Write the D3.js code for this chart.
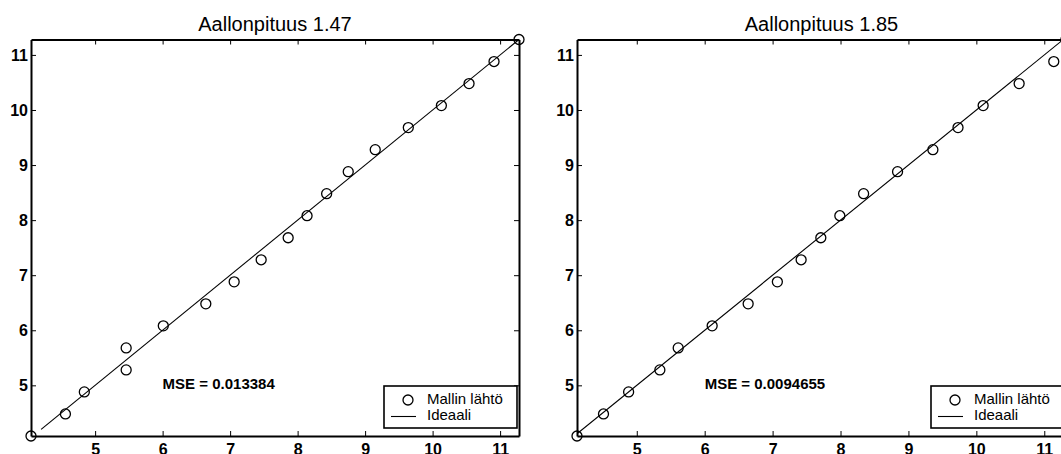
<!DOCTYPE html>
<html>
<head>
<meta charset="utf-8">
<script src="https://cdn.jsdelivr.net/npm/d3@7"></script>
<style>
  html, body { margin: 0; padding: 0; background: #fff; overflow: hidden; }
  svg { display: block; font-family: "Liberation Sans", Arial, Helvetica, sans-serif; }
</style>
</head>
<body>
<svg id="chart" width="1061" height="454"></svg>
<script>
// Target values (vertical axis) shared by both wavelengths
const targetValues = [4.08, 4.48, 4.88, 5.28, 5.68, 6.08, 6.48, 6.88, 7.28, 7.68,
                      8.08, 8.48, 8.88, 9.28, 9.68, 10.08, 10.48, 10.88, 11.28];
// Model outputs (horizontal axis) for each wavelength
const outputs147 = [4.05, 4.56, 4.84, 5.46, 5.46, 6.01, 6.64, 7.06, 7.46, 7.86,
                    8.14, 8.43, 8.75, 9.15, 9.64, 10.13, 10.54, 10.91, 11.28];
const outputs185 = [4.12, 4.51, 4.88, 5.34, 5.61, 6.11, 6.64, 7.07, 7.42, 7.71,
                    7.99, 8.34, 8.84, 9.36, 9.73, 10.10, 10.63, 11.14, 11.32];
const xTickValues = [5, 6, 7, 8, 9, 10, 11];
const yTickValues = [5, 6, 7, 8, 9, 10, 11];
const panelTitles = ["Aallonpituus 1.47", "Aallonpituus 1.85"];
const mseLabels = ["MSE = 0.013384", "MSE = 0.0094655"];
const msePosition = [6, 5];
const idealRanges = [[4.2, 11.28], [4.12, 11.32]];
const legendLabels = ["Mallin lähtö", "Ideaali"];

const svg = d3.select("#chart");
const plotTop = 39.5, plotBottom = 436;
const panels = [
  { left: 31, right: 519, outputs: outputs147, title: panelTitles[0], mse: mseLabels[0], ideal: idealRanges[0] },
  { left: 577, right: 1066, outputs: outputs185, title: panelTitles[1], mse: mseLabels[1], ideal: idealRanges[1] }
];

panels.forEach((p, i) => {
  const x = d3.scaleLinear().domain(d3.extent(p.outputs)).range([p.left, p.right]);
  const y = d3.scaleLinear().domain(d3.extent(targetValues)).range([plotBottom, plotTop]);
  const g = svg.append("g");

  // clip region for the ideal line
  const clipId = "clip" + i;
  svg.append("clipPath").attr("id", clipId)
    .append("rect").attr("x", p.left).attr("y", plotTop)
    .attr("width", p.right - p.left).attr("height", plotBottom - plotTop);

  // ideal y = x line
  const line = d3.line().x(d => x(d)).y(d => y(d));
  g.append("path").datum(p.ideal)
    .attr("d", line)
    .attr("clip-path", `url(#${clipId})`)
    .attr("fill", "none").attr("stroke", "#000").attr("stroke-width", 1.1);

  // axes (box with inward ticks)
  const tickLen = 5;
  const styleAxis = (sel) => {
    sel.select(".domain").attr("stroke", "#000").attr("stroke-width", 2);
    sel.selectAll(".tick line").attr("stroke", "#000").attr("stroke-width", 1);
    sel.selectAll(".tick text").attr("fill", "#000")
      .style("font-size", "16px").style("font-weight", "bold")
      .style("font-family", '"Liberation Sans", Arial, sans-serif');
  };
  g.append("g").attr("transform", `translate(0,${plotBottom})`)
    .call(d3.axisBottom(x).tickValues(xTickValues).tickFormat(d3.format("d"))
      .tickSizeInner(-tickLen).tickSizeOuter(0).tickPadding(7.5))
    .call(styleAxis);
  g.append("g").attr("transform", `translate(0,${plotTop})`)
    .call(d3.axisTop(x).tickValues(xTickValues).tickFormat("")
      .tickSizeInner(-tickLen).tickSizeOuter(0))
    .call(styleAxis);
  g.append("g").attr("transform", `translate(${p.left},0)`)
    .call(d3.axisLeft(y).tickValues(yTickValues).tickFormat(d3.format("d"))
      .tickSizeInner(-tickLen).tickSizeOuter(0).tickPadding(3))
    .call(styleAxis);
  g.append("g").attr("transform", `translate(${p.right},0)`)
    .call(d3.axisRight(y).tickValues(yTickValues).tickFormat("")
      .tickSizeInner(-tickLen).tickSizeOuter(0))
    .call(styleAxis);

  // model output markers
  g.append("g").selectAll("circle")
    .data(p.outputs.map((v, k) => [v, targetValues[k]]))
    .join("circle")
    .attr("cx", d => x(d[0])).attr("cy", d => y(d[1]))
    .attr("r", 5).attr("fill", "none")
    .attr("stroke", "#000").attr("stroke-width", 1.3);

  // title
  g.append("text")
    .attr("x", (p.left + p.right) / 2).attr("y", 31)
    .attr("text-anchor", "middle")
    .style("font-size", "20px")
    .text(p.title);

  // MSE annotation
  g.append("text")
    .attr("x", x(msePosition[0])).attr("y", y(msePosition[1]))
    .attr("dominant-baseline", "middle")
    .style("font-size", "15px").style("font-weight", "bold")
    .text(p.mse);

  // legend
  const lx = p.right - 135, ly = 386, lw = 133, lh = 42;
  const lg = g.append("g");
  lg.append("rect").attr("x", lx).attr("y", ly).attr("width", lw).attr("height", lh)
    .attr("fill", "#fff").attr("stroke", "#000").attr("stroke-width", 1.6);
  lg.append("circle").attr("cx", lx + 24).attr("cy", ly + 14).attr("r", 5)
    .attr("fill", "none").attr("stroke", "#000").attr("stroke-width", 1.3);
  lg.append("line").attr("x1", lx + 7).attr("x2", lx + 32)
    .attr("y1", ly + 30.5).attr("y2", ly + 30.5)
    .attr("stroke", "#000").attr("stroke-width", 1.1);
  lg.selectAll("text").data(legendLabels).join("text")
    .attr("x", lx + 43).attr("y", (d, k) => ly + 14 + k * 16.5)
    .attr("dominant-baseline", "middle")
    .style("font-size", "15px")
    .text(d => d);
});
</script>
</body>
</html>
